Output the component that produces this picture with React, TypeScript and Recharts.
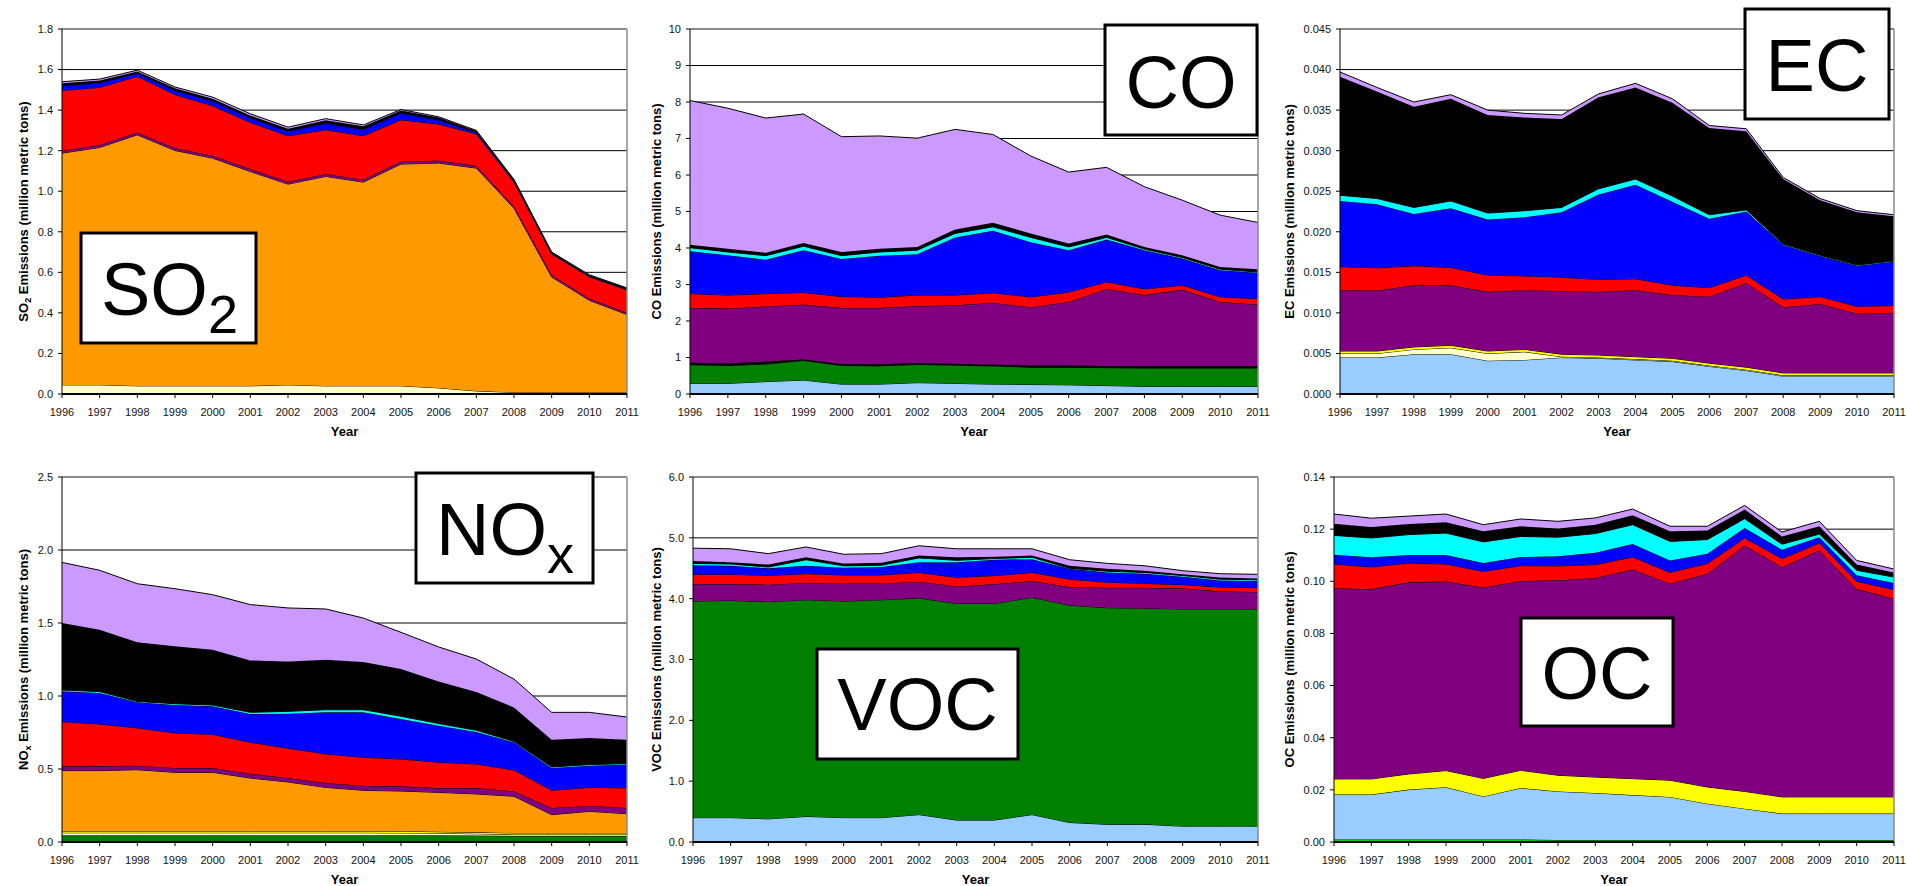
import React from 'react';
import { AreaChart, Area, XAxis, YAxis, CartesianGrid, ReferenceLine } from 'recharts';

const years = ['1996','1997','1998','1999','2000','2001','2002','2003','2004','2005','2006','2007','2008','2009','2010','2011'];

// colours (sector palette)
const C = {
  lightBlue: '#99CCFF', lightYellow: '#FFFFCC', yellow: '#FFFF00', brightGreen: '#00CC00', green: '#008000',
  orange: '#FF9900', purple: '#800080', red: '#FF0000', blue: '#0000FF', cyan: '#00FFFF', black: '#000000', lavender: '#CC99FF',
};

// ---- SO2 ----
const so2LightYellow = [0.045,0.045,0.040,0.040,0.040,0.040,0.045,0.040,0.040,0.040,0.030,0.015,0.008,0.008,0.008,0.008];
const so2Orange = [1.143,1.171,1.238,1.161,1.123,1.057,0.990,1.033,1.005,1.094,1.109,1.099,0.908,0.569,0.454,0.384];
const so2Purple = [0.012,0.012,0.012,0.012,0.012,0.012,0.012,0.012,0.012,0.012,0.012,0.012,0.010,0.010,0.009,0.009];
const so2Red = [0.297,0.284,0.276,0.263,0.246,0.230,0.226,0.218,0.216,0.206,0.180,0.156,0.119,0.103,0.107,0.112];
const so2Blue = [0.023,0.023,0.016,0.021,0.024,0.023,0.023,0.032,0.032,0.033,0.021,0.008,0.005,0.003,0.003,0.003];
const so2Black = [0.012,0.011,0.008,0.011,0.011,0.012,0.012,0.015,0.015,0.013,0.011,0.007,0.006,0.005,0.005,0.005];
const so2Lavender = [0.008,0.007,0.007,0.006,0.008,0.008,0.008,0.008,0.007,0.005,0.004,0.003,0.002,0.002,0.002,0.002];
const so2Ticks = [0,0.2,0.4,0.6,0.8,1.0,1.2,1.4,1.6,1.8];

// ---- CO ----
const coLightBlue = [0.29,0.29,0.34,0.38,0.27,0.27,0.31,0.29,0.27,0.26,0.25,0.23,0.21,0.21,0.21,0.21];
const coGreen = [0.51,0.49,0.48,0.54,0.51,0.50,0.50,0.50,0.50,0.47,0.48,0.49,0.50,0.50,0.50,0.50];
const coDark = [0.05,0.06,0.07,0.03,0.04,0.05,0.04,0.04,0.04,0.06,0.06,0.05,0.06,0.06,0.06,0.06];
const coPurple = [1.51,1.50,1.51,1.50,1.54,1.54,1.56,1.60,1.69,1.59,1.73,2.11,1.94,2.09,1.75,1.68];
const coRed = [0.39,0.37,0.35,0.33,0.31,0.29,0.30,0.28,0.27,0.28,0.27,0.19,0.17,0.12,0.14,0.16];
const coBlue = [1.16,1.09,0.93,1.16,1.03,1.14,1.12,1.58,1.70,1.50,1.15,1.16,1.06,0.73,0.73,0.71];
const coCyan = [0.10,0.09,0.11,0.11,0.09,0.10,0.11,0.11,0.11,0.13,0.09,0.06,0.03,0.03,0.03,0.02];
const coBlack = [0.08,0.09,0.08,0.09,0.10,0.09,0.09,0.11,0.11,0.11,0.09,0.08,0.06,0.06,0.06,0.08];
const coLavender = [3.95,3.85,3.69,3.53,3.16,3.09,2.98,2.74,2.42,2.12,1.96,1.84,1.65,1.51,1.42,1.28];
const coTicks = [0,1,2,3,4,5,6,7,8,9,10];

// ---- EC ----
const ecLightBlue = [0.0045,0.0045,0.0049,0.0049,0.0041,0.0042,0.0045,0.0044,0.0042,0.0040,0.0034,0.0029,0.0022,0.0022,0.0022,0.0022];
const ecLightYellow = [0.0005,0.0005,0.0006,0.0008,0.0009,0.0010,0.0001,0.0001,0.0001,0.0001,0.0001,0.0001,0.0001,0.0001,0.0001,0.0001];
const ecYellow = [0.0003,0.0003,0.0003,0.0003,0.0003,0.0003,0.0003,0.0003,0.0003,0.0003,0.0003,0.0003,0.0003,0.0003,0.0003,0.0003];
const ecPurple = [0.0075,0.00745,0.0076,0.0074,0.0073,0.0073,0.0078,0.0078,0.0082,0.0078,0.0082,0.0104,0.0081,0.0085,0.0073,0.0074];
const ecRed = [0.0029,0.0028,0.0024,0.0022,0.00205,0.00175,0.0017,0.0015,0.0014,0.0012,0.0011,0.00095,0.0010,0.0009,0.0009,0.0009];
const ecBlue = [0.0081,0.00785,0.0064,0.0073,0.00685,0.00725,0.0080,0.0105,0.0116,0.0103,0.0085,0.00785,0.0067,0.0050,0.0050,0.0054];
const ecCyan = [0.0007,0.0007,0.0008,0.0009,0.0008,0.0008,0.0006,0.0007,0.0007,0.0007,0.0005,0.0002,0.0001,0.0001,0.0001,0.0001];
const ecBlack = [0.0146,0.0132,0.0124,0.0126,0.0121,0.0115,0.0109,0.0113,0.0113,0.0115,0.0107,0.0097,0.0080,0.0068,0.0065,0.0055];
const ecLavender = [0.0006,0.0005,0.0006,0.0005,0.0006,0.0005,0.0005,0.0004,0.0005,0.0005,0.0003,0.0003,0.0002,0.0002,0.0002,0.0002];
const ecTicks = [0,0.005,0.01,0.015,0.02,0.025,0.03,0.035,0.04,0.045];

// ---- NOx ----
const noxLightBlue = [0.006,0.006,0.006,0.006,0.006,0.006,0.006,0.006,0.006,0.006,0.006,0.006,0.006,0.006,0.006,0.006];
const noxGreen = [0.040,0.040,0.040,0.040,0.040,0.040,0.040,0.040,0.040,0.040,0.040,0.038,0.036,0.036,0.036,0.036];
const noxLightYellow = [0.017,0.017,0.017,0.017,0.017,0.017,0.017,0.017,0.017,0.016,0.014,0.012,0.010,0.010,0.010,0.010];
const noxYellow = [0.012,0.012,0.012,0.012,0.012,0.012,0.012,0.012,0.012,0.012,0.010,0.010,0.010,0.010,0.010,0.010];
const noxOrange = [0.414,0.414,0.420,0.402,0.402,0.363,0.336,0.299,0.279,0.275,0.270,0.263,0.251,0.125,0.148,0.132];
const noxPurple = [0.029,0.032,0.028,0.030,0.030,0.030,0.027,0.030,0.032,0.032,0.030,0.041,0.034,0.046,0.039,0.039];
const noxRed = [0.306,0.287,0.258,0.240,0.230,0.215,0.204,0.199,0.194,0.187,0.176,0.164,0.146,0.121,0.125,0.137];
const noxBlue = [0.208,0.213,0.176,0.191,0.192,0.194,0.237,0.285,0.308,0.274,0.251,0.219,0.190,0.153,0.149,0.160];
const noxCyan = [0.009,0.009,0.006,0.009,0.009,0.011,0.016,0.018,0.018,0.019,0.014,0.012,0.006,0.007,0.007,0.007];
const noxBlack = [0.459,0.424,0.405,0.393,0.379,0.356,0.342,0.343,0.327,0.324,0.289,0.262,0.233,0.187,0.182,0.164];
const noxLavender = [0.415,0.407,0.401,0.395,0.377,0.382,0.366,0.347,0.301,0.251,0.236,0.226,0.194,0.187,0.176,0.155];
const noxTicks = [0,0.5,1.0,1.5,2.0,2.5];

// ---- VOC ----
const vocLightBlue = [0.40,0.40,0.38,0.42,0.40,0.40,0.45,0.36,0.36,0.45,0.32,0.29,0.29,0.26,0.26,0.26];
const vocGreen = [3.56,3.57,3.57,3.56,3.56,3.58,3.56,3.56,3.56,3.57,3.57,3.56,3.55,3.57,3.57,3.57];
const vocPurple = [0.28,0.27,0.28,0.28,0.29,0.27,0.27,0.28,0.32,0.27,0.30,0.33,0.34,0.34,0.29,0.28];
const vocRed = [0.16,0.16,0.15,0.15,0.14,0.14,0.15,0.15,0.14,0.14,0.13,0.09,0.07,0.06,0.07,0.07];
const vocBlue = [0.15,0.14,0.12,0.13,0.12,0.13,0.17,0.25,0.26,0.22,0.17,0.16,0.16,0.13,0.11,0.11];
const vocCyan = [0.03,0.03,0.02,0.10,0.03,0.03,0.07,0.03,0.02,0.03,0.01,0.02,0.02,0.02,0.02,0.02];
const vocBlack = [0.04,0.03,0.04,0.04,0.04,0.04,0.04,0.05,0.03,0.03,0.04,0.04,0.03,0.02,0.03,0.02];
const vocLavender = [0.21,0.22,0.18,0.17,0.15,0.15,0.16,0.14,0.13,0.11,0.10,0.09,0.08,0.06,0.06,0.07];
const vocTicks = [0,1,2,3,4,5,6];

// ---- OC ----
const ocGreen = [0.0010,0.0010,0.0010,0.0010,0.0010,0.0010,0.0008,0.0008,0.0008,0.0008,0.0008,0.0008,0.0008,0.0008,0.0008,0.0008];
const ocLightBlue = [0.0172,0.0172,0.0191,0.0200,0.0165,0.0197,0.0186,0.0180,0.0172,0.0165,0.0139,0.0120,0.0101,0.0101,0.0101,0.0101];
const ocYellow = [0.0060,0.0060,0.0060,0.0064,0.0069,0.0068,0.0062,0.0061,0.0063,0.0064,0.0064,0.0066,0.0064,0.0064,0.0064,0.0064];
const ocPurple = [0.0731,0.0728,0.0735,0.0725,0.0732,0.0726,0.0748,0.0764,0.0802,0.0754,0.0818,0.0943,0.0881,0.0946,0.0797,0.0760];
const ocRed = [0.0093,0.0085,0.0074,0.0067,0.0062,0.0059,0.0055,0.0051,0.0048,0.0043,0.0039,0.0029,0.0033,0.0028,0.0030,0.0035];
const ocBlue = [0.0036,0.0037,0.0031,0.0035,0.0032,0.0033,0.0037,0.0045,0.0050,0.0046,0.0038,0.0038,0.0034,0.0022,0.0023,0.0025];
const ocCyan = [0.0074,0.0074,0.0078,0.0084,0.0081,0.0079,0.0073,0.0074,0.0074,0.0073,0.0054,0.0036,0.0021,0.0012,0.0019,0.0023];
const ocBlack = [0.0045,0.0042,0.0041,0.0041,0.0041,0.0039,0.0033,0.0034,0.0036,0.0039,0.0035,0.0035,0.0030,0.0030,0.0022,0.0018];
const ocLavender = [0.0037,0.0034,0.0030,0.0032,0.0025,0.0028,0.0028,0.0026,0.0024,0.0019,0.0016,0.0016,0.0017,0.0019,0.0016,0.0013];
const ocTicks = [0,0.02,0.04,0.06,0.08,0.10,0.12,0.14];

type Series = { name: string; color: string; values: number[] };
type Panel = {
  id: string; left: number; top: number; plotLeft: number; plotRight: number; plotTop: number;
  ticks: number[]; digits: number; series: Series[];
};

const FONT = '"Liberation Sans", Arial, Helvetica, sans-serif';
const PLOT_H = 365;
const PAGE_W = 1907;

const panels: Panel[] = [
  { id: 'so2', left: 0, top: 0, plotLeft: 62, plotRight: 627, plotTop: 29, ticks: so2Ticks, digits: 1, series: [
    { name: 'lightYellow', color: C.lightYellow, values: so2LightYellow },
    { name: 'orange', color: C.orange, values: so2Orange },
    { name: 'purple', color: C.purple, values: so2Purple },
    { name: 'red', color: C.red, values: so2Red },
    { name: 'blue', color: C.blue, values: so2Blue },
    { name: 'black', color: C.black, values: so2Black },
    { name: 'lavender', color: C.lavender, values: so2Lavender },
  ] },
  { id: 'co', left: 640, top: 0, plotLeft: 690, plotRight: 1258, plotTop: 29, ticks: coTicks, digits: 0, series: [
    { name: 'lightBlue', color: C.lightBlue, values: coLightBlue },
    { name: 'green', color: C.green, values: coGreen },
    { name: 'dark', color: C.black, values: coDark },
    { name: 'purple', color: C.purple, values: coPurple },
    { name: 'red', color: C.red, values: coRed },
    { name: 'blue', color: C.blue, values: coBlue },
    { name: 'cyan', color: C.cyan, values: coCyan },
    { name: 'black', color: C.black, values: coBlack },
    { name: 'lavender', color: C.lavender, values: coLavender },
  ] },
  { id: 'ec', left: 1270, top: 0, plotLeft: 1340, plotRight: 1894, plotTop: 29, ticks: ecTicks, digits: 3, series: [
    { name: 'lightBlue', color: C.lightBlue, values: ecLightBlue },
    { name: 'lightYellow', color: C.lightYellow, values: ecLightYellow },
    { name: 'yellow', color: C.yellow, values: ecYellow },
    { name: 'purple', color: C.purple, values: ecPurple },
    { name: 'red', color: C.red, values: ecRed },
    { name: 'blue', color: C.blue, values: ecBlue },
    { name: 'cyan', color: C.cyan, values: ecCyan },
    { name: 'black', color: C.black, values: ecBlack },
    { name: 'lavender', color: C.lavender, values: ecLavender },
  ] },
  { id: 'nox', left: 0, top: 440, plotLeft: 62, plotRight: 627, plotTop: 477, ticks: noxTicks, digits: 1, series: [
    { name: 'lightBlue', color: C.lightBlue, values: noxLightBlue },
    { name: 'green', color: C.green, values: noxGreen },
    { name: 'lightYellow', color: C.lightYellow, values: noxLightYellow },
    { name: 'yellow', color: C.yellow, values: noxYellow },
    { name: 'orange', color: C.orange, values: noxOrange },
    { name: 'purple', color: C.purple, values: noxPurple },
    { name: 'red', color: C.red, values: noxRed },
    { name: 'blue', color: C.blue, values: noxBlue },
    { name: 'cyan', color: C.cyan, values: noxCyan },
    { name: 'black', color: C.black, values: noxBlack },
    { name: 'lavender', color: C.lavender, values: noxLavender },
  ] },
  { id: 'voc', left: 640, top: 440, plotLeft: 693, plotRight: 1258, plotTop: 477, ticks: vocTicks, digits: 1, series: [
    { name: 'lightBlue', color: C.lightBlue, values: vocLightBlue },
    { name: 'green', color: C.green, values: vocGreen },
    { name: 'purple', color: C.purple, values: vocPurple },
    { name: 'red', color: C.red, values: vocRed },
    { name: 'blue', color: C.blue, values: vocBlue },
    { name: 'cyan', color: C.cyan, values: vocCyan },
    { name: 'black', color: C.black, values: vocBlack },
    { name: 'lavender', color: C.lavender, values: vocLavender },
  ] },
  { id: 'oc', left: 1270, top: 440, plotLeft: 1334, plotRight: 1894, plotTop: 477, ticks: ocTicks, digits: 2, series: [
    { name: 'brightGreen', color: C.brightGreen, values: ocGreen },
    { name: 'lightBlue', color: C.lightBlue, values: ocLightBlue },
    { name: 'yellow', color: C.yellow, values: ocYellow },
    { name: 'purple', color: C.purple, values: ocPurple },
    { name: 'red', color: C.red, values: ocRed },
    { name: 'blue', color: C.blue, values: ocBlue },
    { name: 'cyan', color: C.cyan, values: ocCyan },
    { name: 'black', color: C.black, values: ocBlack },
    { name: 'lavender', color: C.lavender, values: ocLavender },
  ] },
];

function PanelChart({ p }: { p: Panel }) {
  const data = years.map((y, i) => {
    const row: Record<string, any> = { year: y };
    p.series.forEach((s) => { row[s.name] = s.values[i]; });
    return row;
  });
  const marginRight = Math.min(22, PAGE_W - p.plotRight);
  const xAxisH = 30;
  const mTop = p.plotTop - p.top;
  const height = mTop + PLOT_H + xAxisH + 14;
  const yW = p.plotLeft - p.left;
  const width = p.plotRight - p.left + marginRight;
  const max = p.ticks[p.ticks.length - 1];
  return (
    <div style={{ position: 'absolute', left: p.left, top: p.top }}>
      <AreaChart width={width} height={height} data={data} style={{ overflow: 'visible' }}
        margin={{ top: mTop, right: marginRight, bottom: height - mTop - PLOT_H - xAxisH, left: 0 }}>
        <CartesianGrid vertical={false} stroke="#000" strokeWidth={1} />
        <XAxis dataKey="year" interval={0} height={xAxisH} tickSize={4} tickMargin={10}
          axisLine={{ stroke: '#000', strokeWidth: 2 }} tickLine={{ stroke: '#000' }}
          tick={{ fontSize: 11, fill: '#111', fontFamily: FONT }} />
        <YAxis type="number" domain={[0, max]} ticks={p.ticks} width={yW} tickSize={4} tickMargin={5}
          allowDataOverflow interval={0}
          tickFormatter={(v: number) => v.toFixed(p.digits)}
          axisLine={{ stroke: '#000', strokeWidth: 1 }} tickLine={{ stroke: '#000' }}
          tick={{ fontSize: 11, fill: '#111', fontFamily: FONT }} />
        {p.series.map((s) => (
          <Area key={s.name} type="linear" dataKey={s.name} stackId="1" stroke="#000" strokeWidth={1}
            fill={s.color} fillOpacity={1} isAnimationActive={false} dot={false} activeDot={false} />
        ))}
        <ReferenceLine y={max} stroke="#8a8a8a" strokeWidth={2} />
        <ReferenceLine x="2011" stroke="#8a8a8a" strokeWidth={1.5} />
      </AreaChart>
    </div>
  );
}

const titleStyle = { fontFamily: FONT, fontWeight: 700, fontSize: 13, fill: '#000' } as const;
const bigStyle = { fontFamily: FONT, fontSize: 74, fill: '#000' } as const;

function Overlay() {
  return (
    <svg width={1907} height={886} style={{ position: 'absolute', left: 0, top: 0, pointerEvents: 'none' }}>
      {/* y-axis titles */}
      <text transform="translate(28,211.5) rotate(-90)" textAnchor="middle" {...titleStyle}>
        SO<tspan dy={3} fontSize={9}>2</tspan><tspan dy={-3}> Emissions (million metric tons)</tspan>
      </text>
      <text transform="translate(661,211.5) rotate(-90)" textAnchor="middle" {...titleStyle}>CO Emissions (million metric tons)</text>
      <text transform="translate(1294,211.5) rotate(-90)" textAnchor="middle" {...titleStyle}>EC Emissions (million metric tons)</text>
      <text transform="translate(28,659.5) rotate(-90)" textAnchor="middle" {...titleStyle}>
        NO<tspan dy={3} fontSize={9}>x</tspan><tspan dy={-3}> Emissions (million metric tons)</tspan>
      </text>
      <text transform="translate(661,659.5) rotate(-90)" textAnchor="middle" {...titleStyle}>VOC Emissions (million metric tons)</text>
      <text transform="translate(1294,659.5) rotate(-90)" textAnchor="middle" {...titleStyle}>OC Emissions (million metric tons)</text>
      {/* x-axis titles */}
      <text x={344.5} y={436} textAnchor="middle" {...titleStyle}>Year</text>
      <text x={974} y={436} textAnchor="middle" {...titleStyle}>Year</text>
      <text x={1617} y={436} textAnchor="middle" {...titleStyle}>Year</text>
      <text x={344.5} y={884} textAnchor="middle" {...titleStyle}>Year</text>
      <text x={975.5} y={884} textAnchor="middle" {...titleStyle}>Year</text>
      <text x={1614} y={884} textAnchor="middle" {...titleStyle}>Year</text>
      {/* pollutant boxes */}
      <rect x={81} y={233} width={175} height={110} fill="#fff" stroke="#000" strokeWidth={3} />
      <text x={101} y={315} {...bigStyle}>SO<tspan dy={18} fontSize={54}>2</tspan></text>
      <rect x={1105} y={25} width={152} height={110} fill="#fff" stroke="#000" strokeWidth={3} />
      <text x={1181} y={108} textAnchor="middle" {...bigStyle}>CO</text>
      <rect x={1745} y={9} width={144} height={110} fill="#fff" stroke="#000" strokeWidth={3} />
      <text x={1817} y={91} textAnchor="middle" {...bigStyle}>EC</text>
      <rect x={416} y={473} width={177} height={110} fill="#fff" stroke="#000" strokeWidth={3} />
      <text x={436} y={555} {...bigStyle}>NO<tspan dy={18} fontSize={54}>x</tspan></text>
      <rect x={817} y={649} width={201} height={110} fill="#fff" stroke="#000" strokeWidth={3} />
      <text x={917.5} y={730} textAnchor="middle" {...bigStyle}>VOC</text>
      <rect x={1521} y={618} width={152} height={108} fill="#fff" stroke="#000" strokeWidth={3} />
      <text x={1597} y={699} textAnchor="middle" {...bigStyle}>OC</text>
    </svg>
  );
}

export default function App() {
  return (
    <div style={{ position: 'absolute', left: 0, top: 0, width: 1907, height: 886, overflow: 'hidden', background: '#fff' }}>
      {panels.map((p) => <PanelChart key={p.id} p={p} />)}
      <Overlay />
    </div>
  );
}
